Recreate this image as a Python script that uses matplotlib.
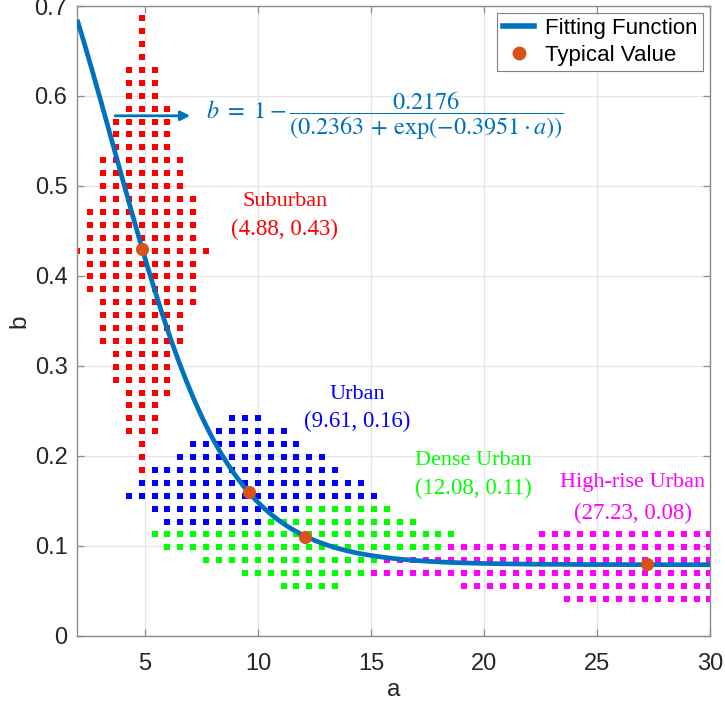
import numpy as np
import matplotlib
matplotlib.use('Agg')
import matplotlib.pyplot as plt
from matplotlib import font_manager as fm
from matplotlib.lines import Line2D


def pick(names, default='DejaVu Sans'):
    for n in names:
        try:
            fm.findfont(fm.FontProperties(family=n), fallback_to_default=False)
            return n
        except Exception:
            pass
    return default


TICK_FONT = pick(['Liberation Sans Narrow', 'Liberation Sans'])
SANS = pick(['Liberation Sans'])
SERIF = pick(['Liberation Serif', 'DejaVu Serif'], 'DejaVu Serif')

# ---------------- data ----------------
# sample grid in the (a, b) plane: a = A0 + DA*k, b = B0 - DB*j
GRID_A0, GRID_DA = 4.85, 0.571
GRID_B0, GRID_DB = 0.4282, 0.014338

# each environment: rows j and the column range [k_start, k_end] occupied in that row
red_rows = list(range(-18, 18))
red_k0 = [0, 0, 0, 0, -1, -1, -1, -1, -2, -2, -2, -3, -3, -3, -3, -4, -4, -4,
          -5, -4, -4, -4, -3, -3, -3, -3, -2, -2, -2, -1, -1, -1, -1, 0, 0, 0]
red_k1 = [0, 0, 0, 0, 1, 1, 1, 2, 2, 2, 2, 3, 3, 3, 4, 4, 4, 4,
          5, 4, 4, 4, 4, 3, 3, 3, 2, 2, 2, 2, 1, 1, 1, 0, 0, 0]

blue_rows = [13, 14, 15, 16, 17, 18, 19, 20, 21]
blue_k0 = [7, 6, 4, 3, 1, 0, -1, 1, 2]
blue_k1 = [9, 11, 12, 14, 15, 17, 18, 12, 9]

green_rows = [20, 21, 22, 23, 24, 25, 26]
green_k0 = [13, 10, 1, 2, 5, 8, 11]
green_k1 = [19, 21, 24, 23, 18, 17, 15]

magenta_rows = [22, 23, 24, 25, 26, 27]
magenta_k0 = [31, 24, 19, 18, 25, 33]
magenta_k1 = [44, 44, 44, 44, 44, 44]

# fitting function b = 1 - C1 / (C2 + exp(-C3 * a))
FIT_C1, FIT_C2, FIT_C3 = 0.2176, 0.2363, 0.3951

# typical values
env_names = ['Suburban', 'Urban', 'Dense Urban', 'High-rise Urban']
typ_a = [4.88, 9.61, 12.08, 27.23]
typ_b = [0.43, 0.16, 0.11, 0.08]
env_colors = ['#FF0000', '#0000FF', '#00FF00', '#FF00FF']
label_pos = [(11.19, 0.483, 0.452), (14.38, 0.268, 0.238),
             (19.51, 0.1947, 0.164), (26.59, 0.1707, 0.1363)]

x_ticks = [5, 10, 15, 20, 25, 30]
y_ticks = [0, 0.1, 0.2, 0.3, 0.4, 0.5, 0.6, 0.7]
y_ticklabels = ['0', '0.1', '0.2', '0.3', '0.4', '0.5', '0.6', '0.7']

LINE_BLUE = '#0072BD'
ORANGE = '#D95319'


def grid_points(rows, k0, k1):
    a, b = [], []
    for j, s, e in zip(rows, k0, k1):
        for k in range(s, e + 1):
            a.append(GRID_A0 + GRID_DA * k)
            b.append(GRID_B0 - GRID_DB * j)
    return np.array(a), np.array(b)


# ---------------- figure ----------------
plt.rcParams['mathtext.fontset'] = 'stix'
fig = plt.figure(figsize=(7.25, 7.06), dpi=100)
ax = fig.add_axes([0.1065, 0.0992, 0.8728, 0.8923])

groups = [(red_rows, red_k0, red_k1), (blue_rows, blue_k0, blue_k1),
          (green_rows, green_k0, green_k1), (magenta_rows, magenta_k0, magenta_k1)]
for (rows, k0, k1), col in zip(groups, env_colors):
    ga, gb = grid_points(rows, k0, k1)
    ax.scatter(ga, gb, marker='s', s=14, color=col, linewidths=0, zorder=2)

a_fit = np.linspace(2, 30, 400)
b_fit = 1 - FIT_C1 / (FIT_C2 + np.exp(-FIT_C3 * a_fit))
ax.plot(a_fit, b_fit, color=LINE_BLUE, lw=3.4, zorder=3, solid_capstyle='butt')
ax.plot(typ_a, typ_b, 'o', color=ORANGE, markersize=9.5, markeredgewidth=0, zorder=4)

for name, a, b, col, (lx, ly1, ly2) in zip(env_names, typ_a, typ_b, env_colors, label_pos):
    ax.text(lx, ly1, name, color=col, fontsize=16, family=SERIF, ha='center', va='center')
    ax.text(lx, ly2, f'({a:.2f}, {b:.2f})', color=col, fontsize=16.5, family=SERIF,
            ha='center', va='center')

ax.text(7.71, 0.578,
        r'$b\ =\ 1 - \dfrac{%.4f}{(%.4f\,+\,\mathrm{exp}(-%.4f \cdot a))}$' % (FIT_C1, FIT_C2, FIT_C3),
        color=LINE_BLUE, fontsize=17.5, ha='left', va='center')
ax.annotate('', xy=(7.0, 0.578), xytext=(3.68, 0.578),
            arrowprops=dict(arrowstyle='-|>', color=LINE_BLUE, lw=2, mutation_scale=14,
                            shrinkA=0, shrinkB=0))

ax.set_xlim(2, 30)
ax.set_ylim(0, 0.7)
ax.set_xticks(x_ticks)
ax.set_yticks(y_ticks)
ax.set_yticklabels(y_ticklabels)
ax.grid(True, color='#E5E5E5', lw=0.9, zorder=0)
ax.set_axisbelow(True)
for sp in ax.spines.values():
    sp.set_color('#8C8C8C')
    sp.set_linewidth(1.0)
ax.tick_params(direction='in', length=5, width=0.9, color='#8C8C8C',
               top=True, right=True, labelsize=17, labelcolor='#262626')
ax.tick_params(axis='x', pad=12)
ax.tick_params(axis='y', pad=7)
for lab in ax.get_xticklabels() + ax.get_yticklabels():
    lab.set_family(TICK_FONT)
ax.set_xlabel('a', fontsize=17.5, family=TICK_FONT, color='#262626', labelpad=3)
ax.set_ylabel('b', fontsize=17.5, family=TICK_FONT, color='#262626', labelpad=3)

handles = [Line2D([], [], color=LINE_BLUE, lw=4),
           Line2D([], [], marker='o', color=ORANGE, ls='none', markersize=10, markeredgewidth=0)]
leg = ax.legend(handles, ['Fitting Function', 'Typical Value'], loc='upper right',
                prop={'family': SANS, 'size': 16}, frameon=True, fancybox=False,
                edgecolor='#7F7F7F', framealpha=1, borderaxespad=0.3, borderpad=0.25,
                handlelength=1.4, handletextpad=0.5, labelspacing=0.25)
leg.get_frame().set_linewidth(0.8)

fig.savefig('out.png', dpi=100)
